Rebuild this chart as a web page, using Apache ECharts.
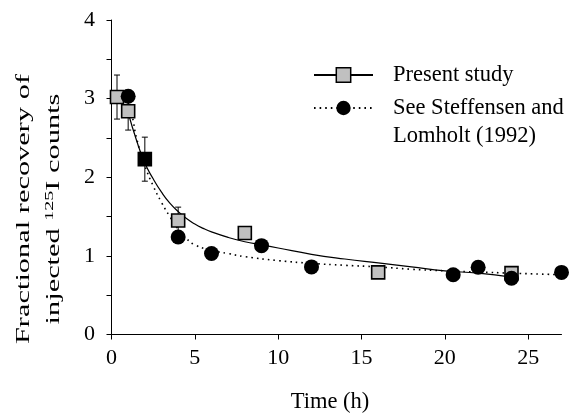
<!DOCTYPE html>
<html>
<head>
<meta charset="utf-8">
<script src="https://cdn.jsdelivr.net/npm/echarts@6/dist/echarts.min.js"></script>
<style>
  html, body { margin: 0; padding: 0; background: #fff; }
  #chart { width: 583px; height: 414px; }
</style>
</head>
<body>
<div id="chart"></div>
<script>
// present study, measured points (+/- error)
const presentX = [0.33, 1, 2, 4, 8, 16, 24];
const presentY = [3.02, 2.84, 2.23, 1.45, 1.29, 0.79, 0.78];
const presentErr = [0.28, 0.24, 0.28, 0.17, 0, 0, 0];

// Steffensen and Lomholt (1992)
const steffX = [1, 4, 6, 9, 12, 20.5, 22, 24, 27];
const steffY = [3.03, 1.24, 1.03, 1.13, 0.86, 0.76, 0.855, 0.715, 0.79];

// fitted curves
const presentFitX = [1, 1.5, 2, 2.5, 3, 3.5, 4, 4.5, 5, 5.5, 6, 7, 8, 9, 10, 12, 14, 16, 18, 20, 22, 24];
const presentFitY = [2.82, 2.47, 2.18, 1.98, 1.81, 1.67, 1.565, 1.475, 1.405, 1.35, 1.305, 1.235, 1.18, 1.14, 1.10, 1.02, 0.96, 0.91, 0.86, 0.81, 0.78, 0.73];
const steffFitX = [1, 1.25, 1.5, 2, 2.5, 3, 3.5, 4, 4.5, 5, 6, 7, 8, 10, 12, 14, 16, 18, 20, 22, 24, 27];
const steffFitY = [2.95, 2.77, 2.50, 2.15, 1.89, 1.68, 1.50, 1.34, 1.22, 1.14, 1.07, 1.03, 0.99, 0.94, 0.905, 0.88, 0.86, 0.83, 0.81, 0.795, 0.78, 0.76];

const xTicks = [0, 5, 10, 15, 20, 25];
const yTicks = [0, 0.5, 1, 1.5, 2, 2.5, 3, 3.5, 4];
const yLabels = [0, 1, 2, 3, 4];

const NAME_1 = "Present study";
const NAME_2 = "See Steffensen and Lomholt (1992)";
const FONT = "Liberation Serif";

const zip = (xs, ys) => xs.map((x, i) => [x, ys[i]]);

const chart = echarts.init(document.getElementById("chart"));

chart.setOption({
  animation: false,
  textStyle: { fontFamily: FONT, color: "#000" },
  grid: { left: 111.5, right: 21.5, top: 20, bottom: 79.5, outerBoundsMode: "none", containLabel: false },
  legend: [
    {
      data: [NAME_1],
      left: 313,
      top: 60,
      padding: 0,
      selectedMode: false,
      itemWidth: 59,
      itemHeight: 18,
      itemStyle: { borderColor: "#000", borderWidth: 1.5 },
      textStyle: { fontFamily: FONT, fontSize: 22.5, color: "#000", lineHeight: 30, padding: [0, 0, 0, 15] },
    },
    {
      data: [NAME_2],
      left: 313,
      top: 66,
      padding: 0,
      selectedMode: false,
      itemWidth: 59,
      itemHeight: 18,
      itemStyle: { borderWidth: 0 },
      // blank first line keeps the symbol level with "See Steffensen and"
      formatter: () => "\nSee Steffensen and\nLomholt (1992)",
      textStyle: { fontFamily: FONT, fontSize: 22.5, color: "#000", lineHeight: 28, padding: [0, 0, 0, 15] },
    },
  ],
  xAxis: {
    type: "value",
    min: 0,
    max: 27,
    name: "Time (h)",
    nameLocation: "middle",
    nameGap: 56,
    nameTextStyle: { fontFamily: FONT, fontSize: 22.5, color: "#000", lineHeight: 24, padding: [0, 13, 0, 0] },
    axisLine: { lineStyle: { color: "#000", width: 1 } },
    axisTick: { length: 5, lineStyle: { color: "#000" }, customValues: xTicks },
    axisLabel: { fontFamily: FONT, fontSize: 22, color: "#000", margin: 12.5, lineHeight: 22, customValues: xTicks },
    splitLine: { show: false },
  },
  yAxis: {
    type: "value",
    min: 0,
    max: 4,
    axisLine: { show: true, lineStyle: { color: "#000", width: 1 } },
    axisTick: { show: true, length: 5, lineStyle: { color: "#000" }, customValues: yTicks },
    axisLabel: { fontFamily: FONT, fontSize: 22, color: "#000", margin: 16.5, customValues: yLabels },
    splitLine: { show: false },
  },
  graphic: [
    {
      type: "text",
      x: 39,
      y: 209,
      rotation: Math.PI / 2,
      scaleX: 1.6,
      style: {
        text: "Fractional recovery of\ninjected {sup|125}I counts",
        font: "19px " + FONT,
        fill: "#000",
        align: "center",
        verticalAlign: "middle",
        lineHeight: 30,
        rich: {
          sup: { fontFamily: FONT, fontSize: 12.5, padding: [0, 0, 9, 0], fill: "#000" },
        },
      },
    },
  ],
  series: [
    {
      name: NAME_1,
      type: "line",
      data: zip(presentFitX, presentFitY),
      smooth: 0.5,
      symbol: "rect",
      showSymbol: false,
      itemStyle: { color: "#c0c0c0", borderColor: "#000", borderWidth: 1.5 },
      lineStyle: { color: "#000", width: 1.2 },
      silent: true,
      z: 1,
    },
    {
      name: NAME_2,
      type: "line",
      data: zip(steffFitX, steffFitY),
      smooth: 0.5,
      symbol: "circle",
      showSymbol: false,
      itemStyle: { color: "#000" },
      lineStyle: { color: "#000", width: 1.6, type: [1.6, 4] },
      silent: true,
      z: 1,
    },
    {
      // error bars
      type: "custom",
      data: presentX.map((x, i) => [x, presentY[i], presentErr[i]]).filter((d) => d[2] > 0),
      renderItem: (params, api) => {
        const x = api.value(0);
        const y = api.value(1);
        const e = api.value(2);
        const top = api.coord([x, y + e]);
        const bot = api.coord([x, y - e]);
        const w = 3;
        const style = { stroke: "#000", lineWidth: 1 };
        return {
          type: "group",
          children: [
            { type: "line", shape: { x1: top[0], y1: top[1], x2: bot[0], y2: bot[1] }, style },
            { type: "line", shape: { x1: top[0] - w, y1: top[1], x2: top[0] + w, y2: top[1] }, style },
            { type: "line", shape: { x1: bot[0] - w, y1: bot[1], x2: bot[0] + w, y2: bot[1] }, style },
          ],
        };
      },
      silent: true,
      z: 2,
    },
    {
      name: NAME_1,
      type: "scatter",
      symbol: "rect",
      symbolSize: 13,
      // the 2 h point is drawn filled black in the original
      data: presentX.map((x, i) =>
        x === 2 ? { value: [x, presentY[i]], itemStyle: { color: "#000" } } : [x, presentY[i]]
      ),
      itemStyle: { color: "#c0c0c0", borderColor: "#000", borderWidth: 1.6, opacity: 1 },
      z: 3,
    },
    {
      name: NAME_2,
      type: "scatter",
      symbol: "circle",
      symbolSize: 15,
      data: zip(steffX, steffY),
      itemStyle: { color: "#000", opacity: 1 },
      z: 4,
    },
  ],
});
</script>
</body>
</html>
